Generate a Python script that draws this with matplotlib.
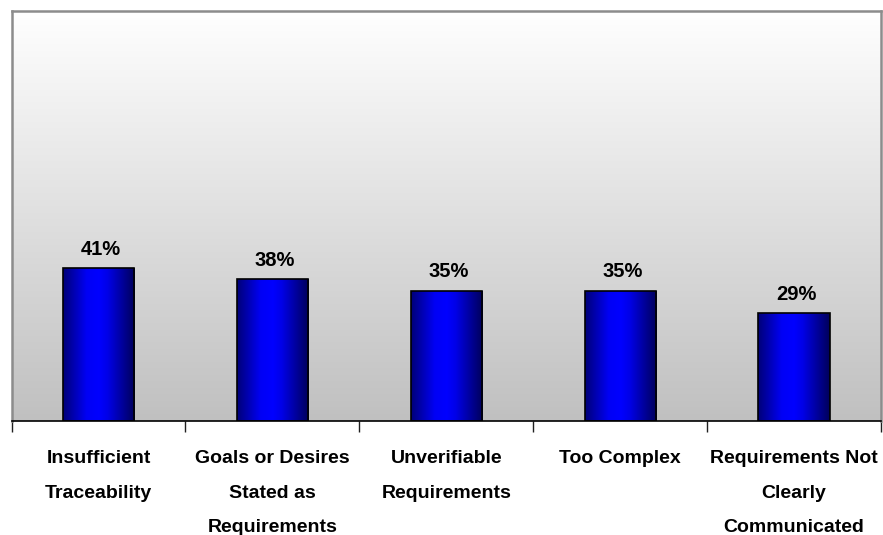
import numpy as np
import matplotlib
matplotlib.use("Agg")
import matplotlib.pyplot as plt
from matplotlib.colors import LinearSegmentedColormap

categories = [
    "Insufficient\nTraceability",
    "Goals or Desires\nStated as\nRequirements",
    "Unverifiable\nRequirements",
    "Too Complex",
    "Requirements Not\nClearly\nCommunicated",
]
values = [0.41, 0.38, 0.35, 0.35, 0.29]
value_labels = ["41%", "38%", "35%", "35%", "29%"]

plt.rcParams["font.family"] = ["Liberation Sans", "DejaVu Sans"]

W, H = 883, 535
fig = plt.figure(figsize=(W / 100, H / 100), dpi=100)
fig.patch.set_facecolor("white")
ax = fig.add_axes([11.5 / W, (H - 421) / H, (881 - 11.5) / W, (421 - 11) / H])

x = np.arange(len(values))
ax.set_xlim(-0.5, len(values) - 0.5)
ax.set_ylim(0, 1.1)

# plot-area background: white at top fading to silver at the bottom
bg = np.linspace(0, 1, 256).reshape(-1, 1)
bg_cmap = LinearSegmentedColormap.from_list("bg", ["#c0c0c0", "#ffffff"])
ax.imshow(bg, cmap=bg_cmap, aspect="auto", origin="lower",
          extent=(0, 1, 0, 1), transform=ax.transAxes, zorder=0)

# bars with a horizontal cylinder-style shading
bar_cmap = LinearSegmentedColormap.from_list(
    "barshade",
    [(0.0, "#000078"), (0.33, "#0000f5"), (0.5, "#0000ff"), (0.62, "#0000e8"), (1.0, "#00005a")],
)
shade = np.linspace(0, 1, 256).reshape(1, -1)
bar_w = 0.41
bars = ax.bar(x, values, width=bar_w, facecolor="none",
              edgecolor="black", linewidth=1.2, zorder=3)
for b in bars:
    x0, y0 = b.get_x(), b.get_y()
    im = ax.imshow(shade, cmap=bar_cmap, aspect="auto",
                   extent=(x0, x0 + b.get_width(), y0, y0 + b.get_height()),
                   zorder=2)
    im.set_clip_path(b)

for xi, v, lab in zip(x, values, value_labels):
    ax.annotate(lab, (xi, v), xytext=(1.5, 9.5), textcoords="offset points",
                ha="center", va="baseline", fontsize=14.5, fontweight="bold",
                color="black", zorder=4)

ax.set_xticks(x)
ax.set_xticklabels(categories, fontsize=14, fontweight="bold", linespacing=2.35)
ax.set_xticks(np.arange(-0.5, len(values), 1.0), minor=True)
ax.tick_params(axis="x", which="major", length=0, pad=21)
ax.tick_params(axis="x", which="minor", length=8, width=1.0, color="#202020", direction="out")
ax.set_yticks([])

for side in ("top", "left", "right"):
    ax.spines[side].set_color("#8c8c8c")
    ax.spines[side].set_linewidth(1.8)
ax.spines["bottom"].set_color("black")
ax.spines["bottom"].set_linewidth(1.2)

fig.savefig("out.png", dpi=100)
